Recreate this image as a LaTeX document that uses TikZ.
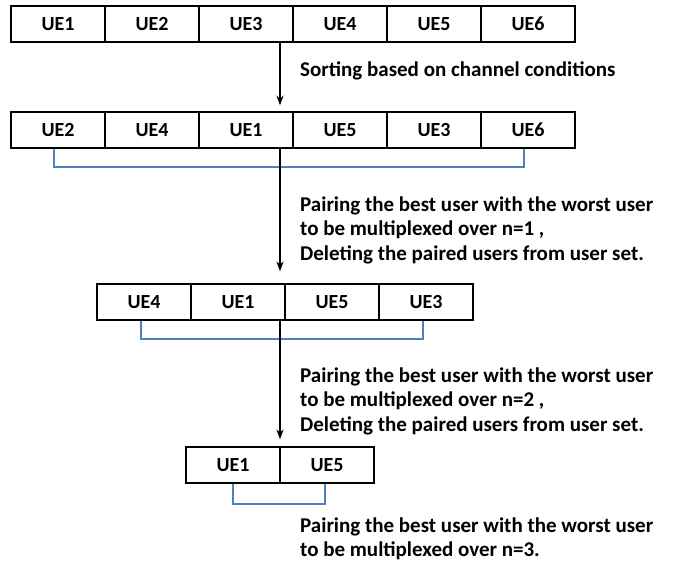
\documentclass[tikz,border=0pt]{standalone}
\usepackage{fontspec}
\setmainfont{Carlito}
\usetikzlibrary{arrows.meta}
\definecolor{pairblue}{RGB}{79,129,189}
\begin{document}
\begin{tikzpicture}[x=1pt,y=-1pt,
  cell/.style={draw, line width=1.2pt, minimum width=94pt, minimum height=36pt, inner sep=0pt, font=\fontsize{20}{22}\selectfont\bfseries},
  pair/.style={draw=pairblue, line width=2pt},
  flow/.style={-{Stealth[length=10pt,width=7pt]}, line width=1.4pt},
  note/.style={anchor=west, align=left, inner sep=0pt, font=\fontsize{21}{24.5}\selectfont\bfseries}]
\useasboundingbox (0,0) rectangle (673,564);
\coordinate (ax) at (280,0);
% user set
  \node[cell] (a1) at (58,24) {UE1};
  \node[cell] (a2) at (152,24) {UE2};
  \node[cell] (a3) at (246,24) {UE3};
  \node[cell] (a4) at (340,24) {UE4};
  \node[cell] (a5) at (434,24) {UE5};
  \node[cell] (a6) at (528,24) {UE6};
% sorted set
  \node[cell] (b1) at (58,130) {UE2};
  \node[cell] (b2) at (152,130) {UE4};
  \node[cell] (b3) at (246,130) {UE1};
  \node[cell] (b4) at (340,130) {UE5};
  \node[cell] (b5) at (434,130) {UE3};
  \node[cell] (b6) at (528,130) {UE6};
% after n=1
  \node[cell] (c1) at (144,302) {UE4};
  \node[cell] (c2) at (238,302) {UE1};
  \node[cell] (c3) at (332,302) {UE5};
  \node[cell] (c4) at (426,302) {UE3};
% after n=2
  \node[cell] (d1) at (233,465) {UE1};
  \node[cell] (d2) at (327,465) {UE5};
% pairs
  \draw[pair] ([xshift=-4pt]b1.south) -- ++(0,18) -| ([xshift=-4pt]b6.south);
  \draw[pair] ([xshift=-3pt]c1.south) -- ++(0,18) -| ([xshift=-3pt]c4.south);
  \draw[pair] (d1.south) -- ++(0,20) -| ([xshift=-2pt]d2.south);
% steps
  \draw[flow, shorten >=6pt] (a3.south -| ax) -- (b3.north -| ax);
  \draw[flow, shorten >=12pt] (b3.south -| ax) -- (c2.north -| ax);
  \draw[flow, shorten >=7pt] (c2.south -| ax) -- (d1.north -| ax);
% notes
  \node[note] (t1) at (300,71) {Sorting based on channel conditions};
  \node[note] (t2) at (300,230) {Pairing the best user with the worst user\\to be multiplexed over n=1 ,\\Deleting the paired users from user set.};
  \node[note] (t3) at (300,401) {Pairing the best user with the worst user\\to be multiplexed over n=2 ,\\Deleting the paired users from user set.};
  \node[note] (t4) at (300,539) {Pairing the best user with the worst user\\to be multiplexed over n=3.};
\end{tikzpicture}
\end{document}
